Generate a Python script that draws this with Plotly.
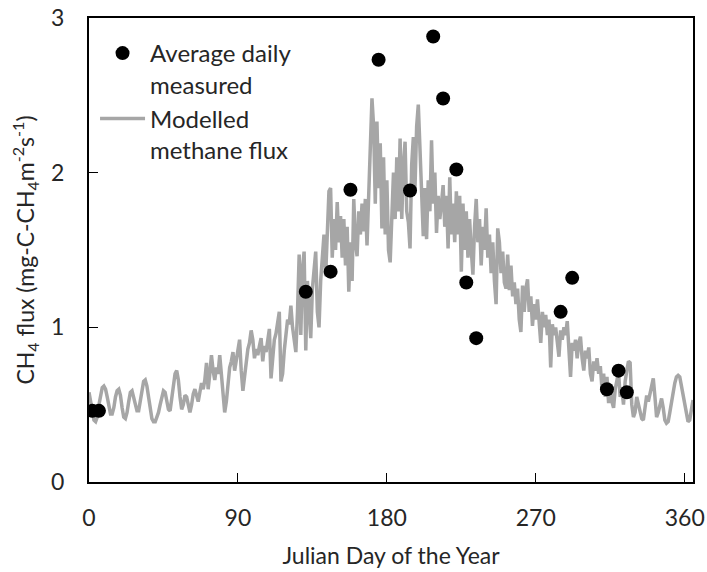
import plotly.graph_objects as go

# Measured average daily CH4 flux
meas_day = [2, 6, 131, 146, 158, 175, 194, 208, 214, 222, 228, 234, 285, 292, 313, 320, 325]
meas_val = [0.46, 0.46, 1.23, 1.36, 1.89, 2.73, 1.885, 2.88, 2.48, 2.02, 1.29, 0.93, 1.10, 1.32, 0.60, 0.72, 0.58]

# Modelled methane flux, day 0..365
model_val = [
    0.58, 0.52, 0.45, 0.40, 0.39, 0.42, 0.50, 0.57, 0.61, 0.62,
    0.60, 0.55, 0.48, 0.44, 0.44, 0.48, 0.55, 0.59, 0.60, 0.56,
    0.48, 0.42, 0.41, 0.45, 0.52, 0.58, 0.59, 0.55, 0.50, 0.46,
    0.46, 0.52, 0.60, 0.65, 0.66, 0.62, 0.55, 0.47, 0.41, 0.39,
    0.39, 0.42, 0.45, 0.50, 0.56, 0.59, 0.58, 0.52, 0.47, 0.46,
    0.55, 0.64, 0.70, 0.72, 0.66, 0.55, 0.47, 0.50, 0.56, 0.55,
    0.49, 0.45, 0.50, 0.57, 0.60, 0.56, 0.52, 0.58, 0.64, 0.60,
    0.66, 0.77, 0.60, 0.70, 0.82, 0.72, 0.66, 0.74, 0.70, 0.82,
    0.68, 0.55, 0.45, 0.52, 0.66, 0.74, 0.78, 0.84, 0.72, 0.80,
    0.86, 0.92, 0.72, 0.59, 0.68, 0.80, 0.86, 0.90, 0.98, 0.92,
    0.80, 0.86, 0.82, 0.88, 0.93, 0.78, 0.88, 0.84, 0.92, 0.99,
    0.67, 0.80, 0.92, 0.96, 1.02, 1.10, 0.65, 0.70, 0.85, 0.95,
    1.05, 1.02, 1.14, 1.00, 0.92, 0.84, 1.10, 1.47, 0.95, 1.38,
    1.49, 0.85, 1.30, 1.10, 0.93, 1.25, 1.40, 1.49, 1.10, 1.00,
    1.30, 1.45, 1.60, 1.33, 1.70, 1.88, 1.90, 1.45, 1.70, 1.50,
    1.81, 1.55, 1.72, 1.45, 1.70, 1.40, 1.65, 1.23, 1.55, 1.30,
    1.83, 1.55, 1.46, 1.75, 1.60, 1.80, 1.62, 1.83, 1.53, 1.85,
    2.10, 2.48, 2.30, 1.80, 2.33, 1.90, 2.19, 1.64, 2.10, 1.60,
    1.95, 1.50, 1.42, 1.80, 2.00, 1.70, 2.10, 1.75, 2.22, 1.70,
    2.05, 2.20, 1.75, 1.68, 1.51, 2.05, 2.23, 1.90, 2.30, 2.44,
    2.10, 1.80, 1.59, 1.90, 1.57, 1.95, 1.75, 2.21, 1.80, 2.00,
    1.61, 1.85, 1.70, 1.80, 1.92, 1.65, 1.85, 1.51, 1.97, 1.60,
    1.80, 1.55, 1.88, 1.60, 1.85, 1.36, 1.80, 1.50, 1.75, 1.45,
    1.70, 1.50, 1.34, 1.65, 1.83, 1.55, 1.70, 1.40, 1.65, 1.50,
    1.77, 1.45, 1.60, 1.35, 1.55, 1.30, 1.15, 1.64, 1.55, 1.35,
    1.49, 1.29, 1.25, 1.47, 1.24, 1.40, 1.20, 1.29, 1.15, 1.25,
    1.05, 0.97, 1.27, 1.10, 1.25, 1.31, 1.10, 1.20, 1.01, 1.15,
    1.05, 1.18, 1.00, 0.90, 1.10, 1.00, 1.08, 0.95, 1.05, 0.74,
    1.02, 0.95, 1.00, 0.90, 0.81, 0.98, 0.92, 1.00, 0.95, 1.04,
    0.85, 0.68, 0.90, 0.85, 0.92, 0.80, 0.90, 0.94, 0.80, 0.72,
    0.85, 0.80, 0.87, 0.70, 0.65, 0.78, 0.72, 0.80, 0.70, 0.75,
    0.60, 0.70, 0.55, 0.68, 0.51, 0.62, 0.52, 0.48, 0.60, 0.65,
    0.71, 0.55, 0.60, 0.50, 0.65, 0.72, 0.78, 0.77, 0.50, 0.42,
    0.45, 0.55, 0.50, 0.45, 0.41, 0.40, 0.48, 0.56, 0.52, 0.58,
    0.64, 0.67, 0.55, 0.42, 0.45, 0.50, 0.54, 0.48, 0.40, 0.38,
    0.39, 0.45, 0.52, 0.58, 0.64, 0.68, 0.69, 0.68, 0.62, 0.55,
    0.48, 0.42, 0.39, 0.40, 0.47, 0.53,
]
model_day = list(range(len(model_val)))

x_ticks = [0, 90, 180, 270, 360]
y_ticks = [0, 1, 2, 3]

FONT = "Lato, 'Open Sans', sans-serif"
FS = 23

fig = go.Figure()
fig.add_trace(go.Scatter(
    x=model_day, y=model_val, mode="lines",
    name="Modelled<br>methane flux",
    line=dict(color="#A6A6A6", width=3.5),
    legendrank=2,
))
fig.add_trace(go.Scatter(
    x=meas_day, y=meas_val, mode="markers",
    name="Average daily<br>measured",
    marker=dict(color="black", size=14),
    legendrank=1,
))

fig.update_layout(
    width=707, height=572,
    margin=dict(l=89, r=14, t=18, b=90),
    paper_bgcolor="white", plot_bgcolor="white",
    font=dict(family=FONT, size=FS, color="#262626"),
    legend=dict(
        x=0.01, y=0.972, xanchor="left", yanchor="top",
        bgcolor="rgba(0,0,0,0)", font=dict(size=24, color="#262626"),
        tracegroupgap=24, valign="top", itemwidth=45,
    ),
    xaxis=dict(
        range=[0, 365], tickvals=x_ticks, ticks="inside", ticklen=9,
        tickwidth=1, tickcolor="black",
        showline=True, linecolor="black", linewidth=2, mirror=True,
        showgrid=False, zeroline=False, automargin=False,
        title=dict(text="Julian Day of the Year", font=dict(size=FS), standoff=18),
        tickfont=dict(size=FS), ticklabelstandoff=14,
    ),
    yaxis=dict(
        range=[0, 3], tickvals=y_ticks, ticks="inside", ticklen=9,
        tickwidth=1, tickcolor="black",
        showline=True, linecolor="black", linewidth=2, mirror=True,
        showgrid=False, zeroline=False, automargin=False,
        title=dict(text="CH<sub>4</sub> flux (mg-C-CH<sub>4</sub>m<sup>-2</sup>s<sup>-1</sup>)",
                   font=dict(size=FS), standoff=10),
        tickfont=dict(size=FS), ticklabelstandoff=18,
    ),
)

fig.write_html("out.html")
